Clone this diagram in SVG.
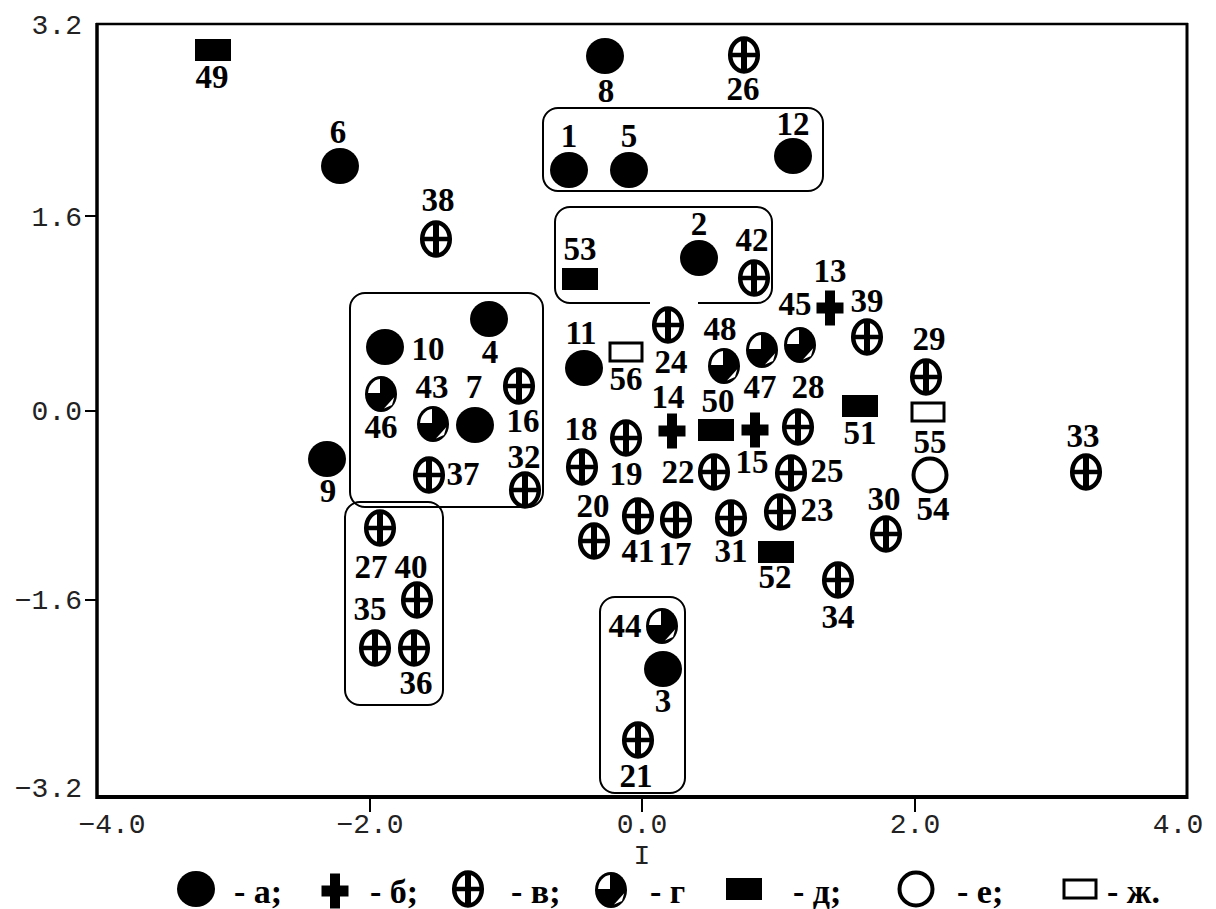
<svg xmlns="http://www.w3.org/2000/svg" width="1216" height="909" viewBox="0 0 1216 909">
<style>
.lb{font-family:"Liberation Serif","Times New Roman",serif;font-weight:bold;font-size:33px;text-anchor:middle;fill:#000}
.ax{font-family:"Liberation Mono","Courier New",monospace;font-size:28px;fill:#222}
.ya{text-anchor:end}
.xa{text-anchor:middle}
.box{fill:none;stroke:#000;stroke-width:2}
.fr{stroke:#000;fill:none}
.lg{font-family:"Liberation Serif","Times New Roman",serif;font-weight:bold;font-size:34px;fill:#000}
</style>
<defs>
<g id="ma"><ellipse rx="19" ry="18" fill="#000"/></g>
<g id="mb"><rect x="-5" y="-17.5" width="10" height="35" fill="#000"/><rect x="-13.5" y="-5.5" width="27" height="11" fill="#000"/></g>
<g id="mv"><ellipse rx="13.8" ry="16.5" fill="#fff" stroke="#000" stroke-width="4.5"/><rect x="-3" y="-17" width="6" height="34" fill="#000"/><rect x="-15" y="-2.25" width="30" height="4.5" fill="#000"/></g>
<g id="mg"><ellipse rx="16" ry="18" fill="#000"/><path d="M-1 -1 H-12.95 A13 15 0 0 1 -1 -14.9 Z" fill="#fff"/><path d="M3 14.4 L13.2 3.2 L11 11 Z" fill="#fff"/></g>
<g id="md"><rect x="-18" y="-11" width="36" height="22" fill="#000"/></g>
<g id="me"><circle r="16.5" fill="#fff" stroke="#000" stroke-width="4"/></g>
<g id="mj"><rect x="-16" y="-9" width="32" height="18" fill="#fff" stroke="#000" stroke-width="3"/></g>
</defs>
<rect width="1216" height="909" fill="#fff"/>
<g id="axes">
<line class="fr" x1="96" y1="24" x2="1188" y2="24" stroke-width="2.5"/>
<line class="fr" x1="96" y1="797" x2="1188" y2="797" stroke-width="4"/>
<line class="fr" x1="97" y1="23" x2="97" y2="799" stroke-width="3.5"/>
<line class="fr" x1="1187" y1="23" x2="1187" y2="799" stroke-width="3"/>
<g stroke="#000" stroke-width="2">
<line x1="85" y1="216" x2="97" y2="216"/>
<line x1="85" y1="411" x2="97" y2="411"/>
<line x1="85" y1="600" x2="97" y2="600"/>
<line x1="370" y1="797" x2="370" y2="812"/>
<line x1="642" y1="797" x2="642" y2="812"/>
<line x1="915" y1="797" x2="915" y2="812"/>
</g>
<text class="ax ya" x="82" y="34">3.2</text>
<text class="ax ya" x="82" y="226">1.6</text>
<text class="ax ya" x="82" y="420">0.0</text>
<text class="ax ya" x="82" y="609">−1.6</text>
<text class="ax ya" x="82" y="797">−3.2</text>
<text class="ax xa" x="112" y="833">−4.0</text>
<text class="ax xa" x="370" y="833">−2.0</text>
<text class="ax xa" x="642" y="833">0.0</text>
<text class="ax xa" x="915" y="833">2.0</text>
<text class="ax xa" x="1178" y="833">4.0</text>
<text class="ax xa" x="642" y="864">I</text>
</g>
<g id="clusters">
<rect class="box" x="543" y="108" width="280" height="83" rx="15"/>
<path class="box" d="M650 303 H570 A15 15 0 0 1 555 288 V222 A15 15 0 0 1 570 207 H757 A15 15 0 0 1 772 222 V288 A15 15 0 0 1 757 303 H698"/>
<rect class="box" x="350" y="293" width="193" height="214" rx="15"/>
<rect class="box" x="345" y="502" width="98" height="203" rx="15"/>
<rect class="box" x="600" y="597" width="85" height="196" rx="15"/>
</g>
<g id="connectors"></g>
<g id="nodes">
<g id="p1"><use href="#ma" x="569" y="170"/><text class="lb" x="569" y="147">1</text></g>
<g id="p2"><use href="#ma" x="699" y="258"/><text class="lb" x="699" y="235">2</text></g>
<g id="p3"><use href="#ma" x="663" y="669"/><text class="lb" x="663" y="712">3</text></g>
<g id="p4"><use href="#ma" x="489" y="319"/><text class="lb" x="490" y="363">4</text></g>
<g id="p5"><use href="#ma" x="629" y="170"/><text class="lb" x="629" y="147">5</text></g>
<g id="p6"><use href="#ma" x="340" y="166"/><text class="lb" x="338" y="143">6</text></g>
<g id="p7"><use href="#ma" x="475" y="425"/><text class="lb" x="474" y="398">7</text></g>
<g id="p8"><use href="#ma" x="605" y="56"/><text class="lb" x="606" y="102">8</text></g>
<g id="p9"><use href="#ma" x="327" y="459"/><text class="lb" x="328" y="502">9</text></g>
<g id="p10"><use href="#ma" x="385" y="347"/><text class="lb" x="428" y="360">10</text></g>
<g id="p11"><use href="#ma" x="584" y="368"/><text class="lb" x="581" y="344">11</text></g>
<g id="p12"><use href="#ma" x="793" y="156"/><text class="lb" x="793" y="135">12</text></g>
<g id="p13"><use href="#mb" x="830" y="308"/><text class="lb" x="830" y="282">13</text></g>
<g id="p14"><use href="#mb" x="672" y="431"/><text class="lb" x="668" y="408">14</text></g>
<g id="p15"><use href="#mb" x="755" y="430"/><text class="lb" x="752" y="473">15</text></g>
<g id="p16"><use href="#mv" x="519" y="386"/><text class="lb" x="523" y="432">16</text></g>
<g id="p17"><use href="#mv" x="676" y="520"/><text class="lb" x="675" y="565">17</text></g>
<g id="p18"><use href="#mv" x="582" y="467"/><text class="lb" x="581" y="440">18</text></g>
<g id="p19"><use href="#mv" x="626" y="438"/><text class="lb" x="626" y="485">19</text></g>
<g id="p20"><use href="#mv" x="594" y="541"/><text class="lb" x="593" y="517">20</text></g>
<g id="p21"><use href="#mv" x="638" y="740"/><text class="lb" x="636" y="787">21</text></g>
<g id="p22"><use href="#mv" x="714" y="472"/><text class="lb" x="678" y="483">22</text></g>
<g id="p23"><use href="#mv" x="780" y="512"/><text class="lb" x="817" y="521">23</text></g>
<g id="p24"><use href="#mv" x="668" y="325"/><text class="lb" x="671" y="373">24</text></g>
<g id="p25"><use href="#mv" x="791" y="473"/><text class="lb" x="827" y="482">25</text></g>
<g id="p26"><use href="#mv" x="744" y="55"/><text class="lb" x="743" y="100">26</text></g>
<g id="p27"><use href="#mv" x="380" y="528"/><text class="lb" x="371" y="578">27</text></g>
<g id="p28"><use href="#mv" x="798" y="427"/><text class="lb" x="808" y="398">28</text></g>
<g id="p29"><use href="#mv" x="926" y="377"/><text class="lb" x="929" y="350">29</text></g>
<g id="p30"><use href="#mv" x="886" y="534"/><text class="lb" x="884" y="510">30</text></g>
<g id="p31"><use href="#mv" x="731" y="518"/><text class="lb" x="731" y="562">31</text></g>
<g id="p32"><use href="#mv" x="525" y="490"/><text class="lb" x="524" y="468">32</text></g>
<g id="p33"><use href="#mv" x="1086" y="472"/><text class="lb" x="1083" y="447">33</text></g>
<g id="p34"><use href="#mv" x="838" y="580"/><text class="lb" x="838" y="628">34</text></g>
<g id="p35"><use href="#mv" x="375" y="648"/><text class="lb" x="370" y="620">35</text></g>
<g id="p36"><use href="#mv" x="414" y="648"/><text class="lb" x="416" y="694">36</text></g>
<g id="p37"><use href="#mv" x="429" y="475"/><text class="lb" x="463" y="485">37</text></g>
<g id="p38"><use href="#mv" x="436" y="239"/><text class="lb" x="438" y="211">38</text></g>
<g id="p39"><use href="#mv" x="867" y="337"/><text class="lb" x="867" y="312">39</text></g>
<g id="p40"><use href="#mv" x="417" y="600"/><text class="lb" x="411" y="578">40</text></g>
<g id="p41"><use href="#mv" x="638" y="516"/><text class="lb" x="638" y="562">41</text></g>
<g id="p42"><use href="#mv" x="754" y="278"/><text class="lb" x="752" y="251">42</text></g>
<g id="p43"><use href="#mg" x="433" y="424"/><text class="lb" x="432" y="398">43</text></g>
<g id="p44"><use href="#mg" x="662" y="626"/><text class="lb" x="625" y="637">44</text></g>
<g id="p45"><use href="#mg" x="800" y="345"/><text class="lb" x="795" y="315">45</text></g>
<g id="p46"><use href="#mg" x="381" y="394"/><text class="lb" x="381" y="438">46</text></g>
<g id="p47"><use href="#mg" x="762" y="350"/><text class="lb" x="760" y="398">47</text></g>
<g id="p48"><use href="#mg" x="724" y="366"/><text class="lb" x="720" y="340">48</text></g>
<g id="p49"><use href="#md" x="213" y="50"/><text class="lb" x="212" y="88">49</text></g>
<g id="p50"><use href="#md" x="716" y="430"/><text class="lb" x="718" y="412">50</text></g>
<g id="p51"><use href="#md" x="860" y="406"/><text class="lb" x="860" y="444">51</text></g>
<g id="p52"><use href="#md" x="776" y="552"/><text class="lb" x="775" y="588">52</text></g>
<g id="p53"><use href="#md" x="580" y="279"/><text class="lb" x="580" y="260">53</text></g>
<g id="p54"><use href="#me" x="930" y="475"/><text class="lb" x="933" y="520">54</text></g>
<g id="p55"><use href="#mj" x="928" y="412"/><text class="lb" x="930" y="453">55</text></g>
<g id="p56"><use href="#mj" x="626" y="352"/><text class="lb" x="626" y="390">56</text></g>
</g>
<g id="legend">
<use href="#ma" x="196" y="889"/><text class="lg" x="234" y="903">- а;</text>
<use href="#mb" x="335" y="891"/><text class="lg" x="370" y="903">- б;</text>
<use href="#mv" x="468" y="889"/><text class="lg" x="511" y="903">- в;</text>
<use href="#mg" x="611" y="890"/><text class="lg" x="650" y="903">- г</text>
<use href="#md" x="744" y="889"/><text class="lg" x="793" y="903">- д;</text>
<use href="#me" x="916" y="889"/><text class="lg" x="957" y="903">- е;</text>
<use href="#mj" x="1080" y="889"/><text class="lg" x="1107" y="903">- ж.</text>
</g>
</svg>
